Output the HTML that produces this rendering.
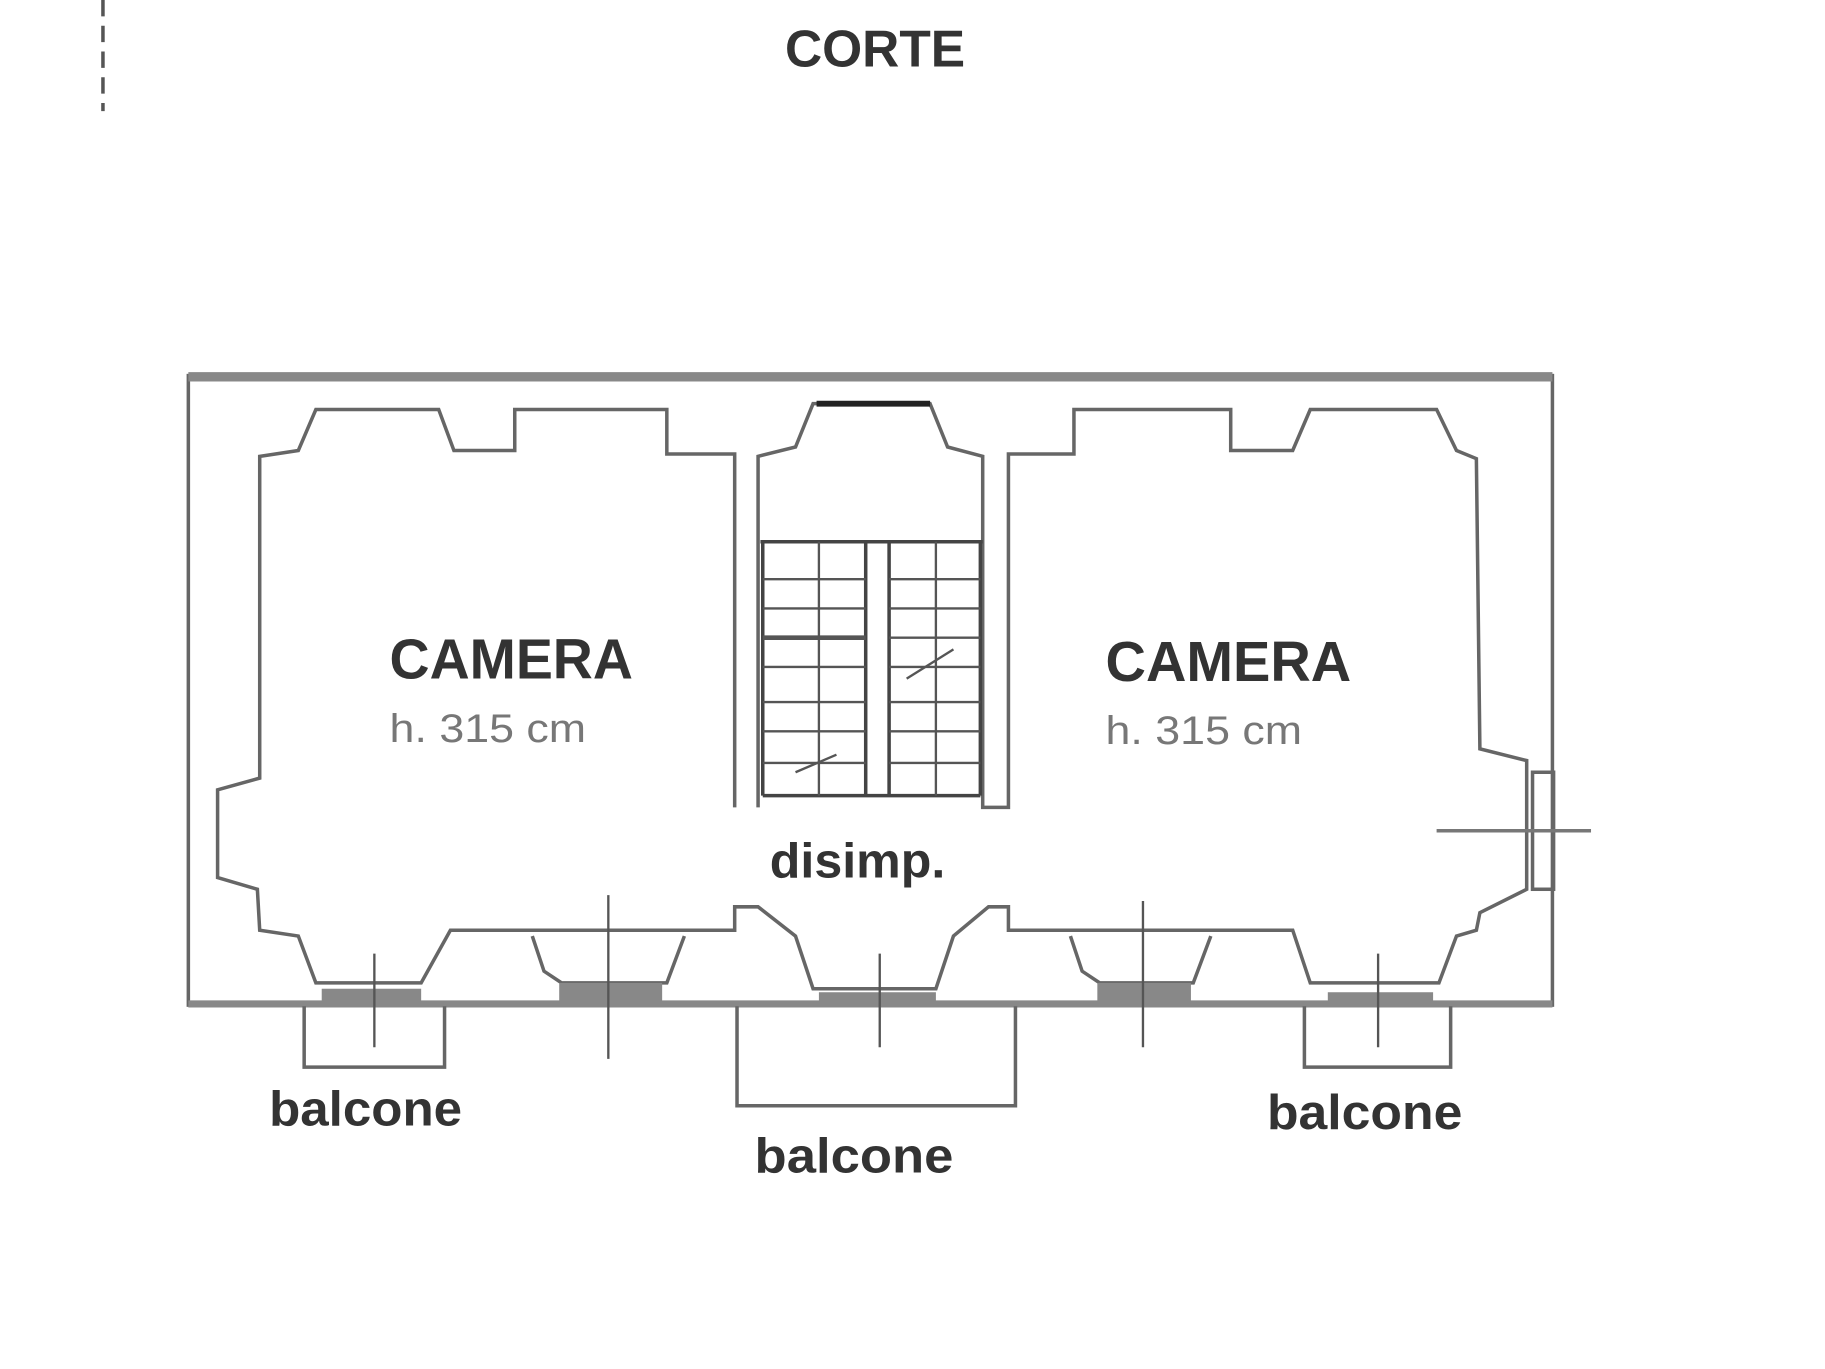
<!DOCTYPE html>
<html><head><style>html,body{margin:0;padding:0;background:#fff}svg{display:block}</style></head><body>
<svg width="1825" height="1369" viewBox="0 0 1560 1170" preserveAspectRatio="none" xmlns="http://www.w3.org/2000/svg" font-family="Liberation Sans, sans-serif">
<line x1="88" y1="0" x2="88" y2="95" stroke="#555" stroke-width="3" stroke-dasharray="14,8"/>
<text x="748" y="57" text-anchor="middle" font-size="44" font-weight="bold" fill="#333">CORTE</text>
<g fill="none" stroke="#666" stroke-width="3">
<rect x="161" y="321" width="1166" height="538"/>
<line x1="161" y1="322" x2="1327" y2="322" stroke="#888" stroke-width="8"/>
<line x1="161" y1="858" x2="1327" y2="858" stroke="#888" stroke-width="6"/>
<polyline points="628,690 628,388 570,388 570,350 440,350 440,385 388,385 375,350 270,350 255,385 222,390 222,665 186,675 186,750 220,760 222,795 255,800 270,840 360,840 385,795 628,795 628,775 648,775 680,800 695,845 800,845 815,800 845,775 862,775 862,795 1105,795 1120,840 1230,840 1245,800 1262,795 1265,780 1305,760 1305,650 1265,640 1262,392 1245,385 1228,350 1120,350 1105,385 1052,385 1052,350 918,350 918,388 862,388 862,690 840,690 840,390 810,382 795,345 695,345 680,382 648,390 648,690"/>
<polyline points="455,800 465,830 480,840 570,840 585,800"/>
<polyline points="915,800 925,830 940,840 1020,840 1035,800"/>
<polyline points="260,860 260,912 380,912 380,860"/>
<polyline points="630,860 630,945 868,945 868,860"/>
<polyline points="1115,860 1115,912 1240,912 1240,860"/>
<line x1="698" y1="345" x2="795" y2="345" stroke="#222" stroke-width="5"/>
<rect x="1310" y="660" width="18" height="100"/>
<line x1="1228" y1="710" x2="1360" y2="710" stroke="#777" stroke-width="3"/>
</g>
<g fill="#888">
<rect x="275" y="845" width="85" height="14"/><rect x="478" y="840" width="88" height="19"/><rect x="700" y="848" width="100" height="11"/><rect x="938" y="840" width="80" height="19"/><rect x="1135" y="848" width="90" height="11"/>
</g>
<g stroke="#555" stroke-width="2">
<line x1="320" y1="815" x2="320" y2="895"/><line x1="520" y1="765" x2="520" y2="905"/><line x1="752" y1="815" x2="752" y2="895"/><line x1="977" y1="770" x2="977" y2="895"/><line x1="1178" y1="815" x2="1178" y2="895"/>
</g>
<g stroke="#444" stroke-width="3" fill="none">
<line x1="650" y1="463" x2="840" y2="463"/>
<line x1="652" y1="463" x2="652" y2="680"/><line x1="740" y1="463" x2="740" y2="680"/><line x1="760" y1="463" x2="760" y2="680"/><line x1="838" y1="463" x2="838" y2="680"/>
<line x1="652" y1="680" x2="838" y2="680"/>
</g>
<g stroke="#555" stroke-width="2">
<line x1="700" y1="463" x2="700" y2="680"/><line x1="800" y1="463" x2="800" y2="680"/>
<line x1="652" y1="495" x2="740" y2="495"/><line x1="760" y1="495" x2="838" y2="495"/>
<line x1="652" y1="520" x2="740" y2="520"/><line x1="760" y1="520" x2="838" y2="520"/>
<line x1="652" y1="545" x2="740" y2="545" stroke-width="4"/><line x1="760" y1="545" x2="838" y2="545"/>
<line x1="652" y1="570" x2="740" y2="570"/><line x1="760" y1="570" x2="838" y2="570"/>
<line x1="652" y1="600" x2="740" y2="600"/><line x1="760" y1="600" x2="838" y2="600"/>
<line x1="652" y1="625" x2="740" y2="625"/><line x1="760" y1="625" x2="838" y2="625"/>
<line x1="652" y1="652" x2="740" y2="652"/><line x1="760" y1="652" x2="838" y2="652"/>
<line x1="775" y1="580" x2="815" y2="555"/><line x1="680" y1="660" x2="715" y2="645"/>
</g>
<g font-weight="bold" fill="#333">
<text x="333" y="580" font-size="48" textLength="208" lengthAdjust="spacingAndGlyphs">CAMERA</text>
<text x="945" y="582" font-size="48" textLength="210" lengthAdjust="spacingAndGlyphs">CAMERA</text>
<text x="658" y="750" font-size="42" textLength="150" lengthAdjust="spacingAndGlyphs">disimp.</text>
<text x="230" y="962" font-size="42" textLength="165" lengthAdjust="spacingAndGlyphs">balcone</text>
<text x="645" y="1002" font-size="42" textLength="170" lengthAdjust="spacingAndGlyphs">balcone</text>
<text x="1083" y="965" font-size="42" textLength="167" lengthAdjust="spacingAndGlyphs">balcone</text>
</g>
<g fill="#777" font-size="34">
<text x="333" y="634" textLength="168" lengthAdjust="spacingAndGlyphs">h. 315 cm</text>
<text x="945" y="636" textLength="168" lengthAdjust="spacingAndGlyphs">h. 315 cm</text>
</g>
</svg>
</body></html>
